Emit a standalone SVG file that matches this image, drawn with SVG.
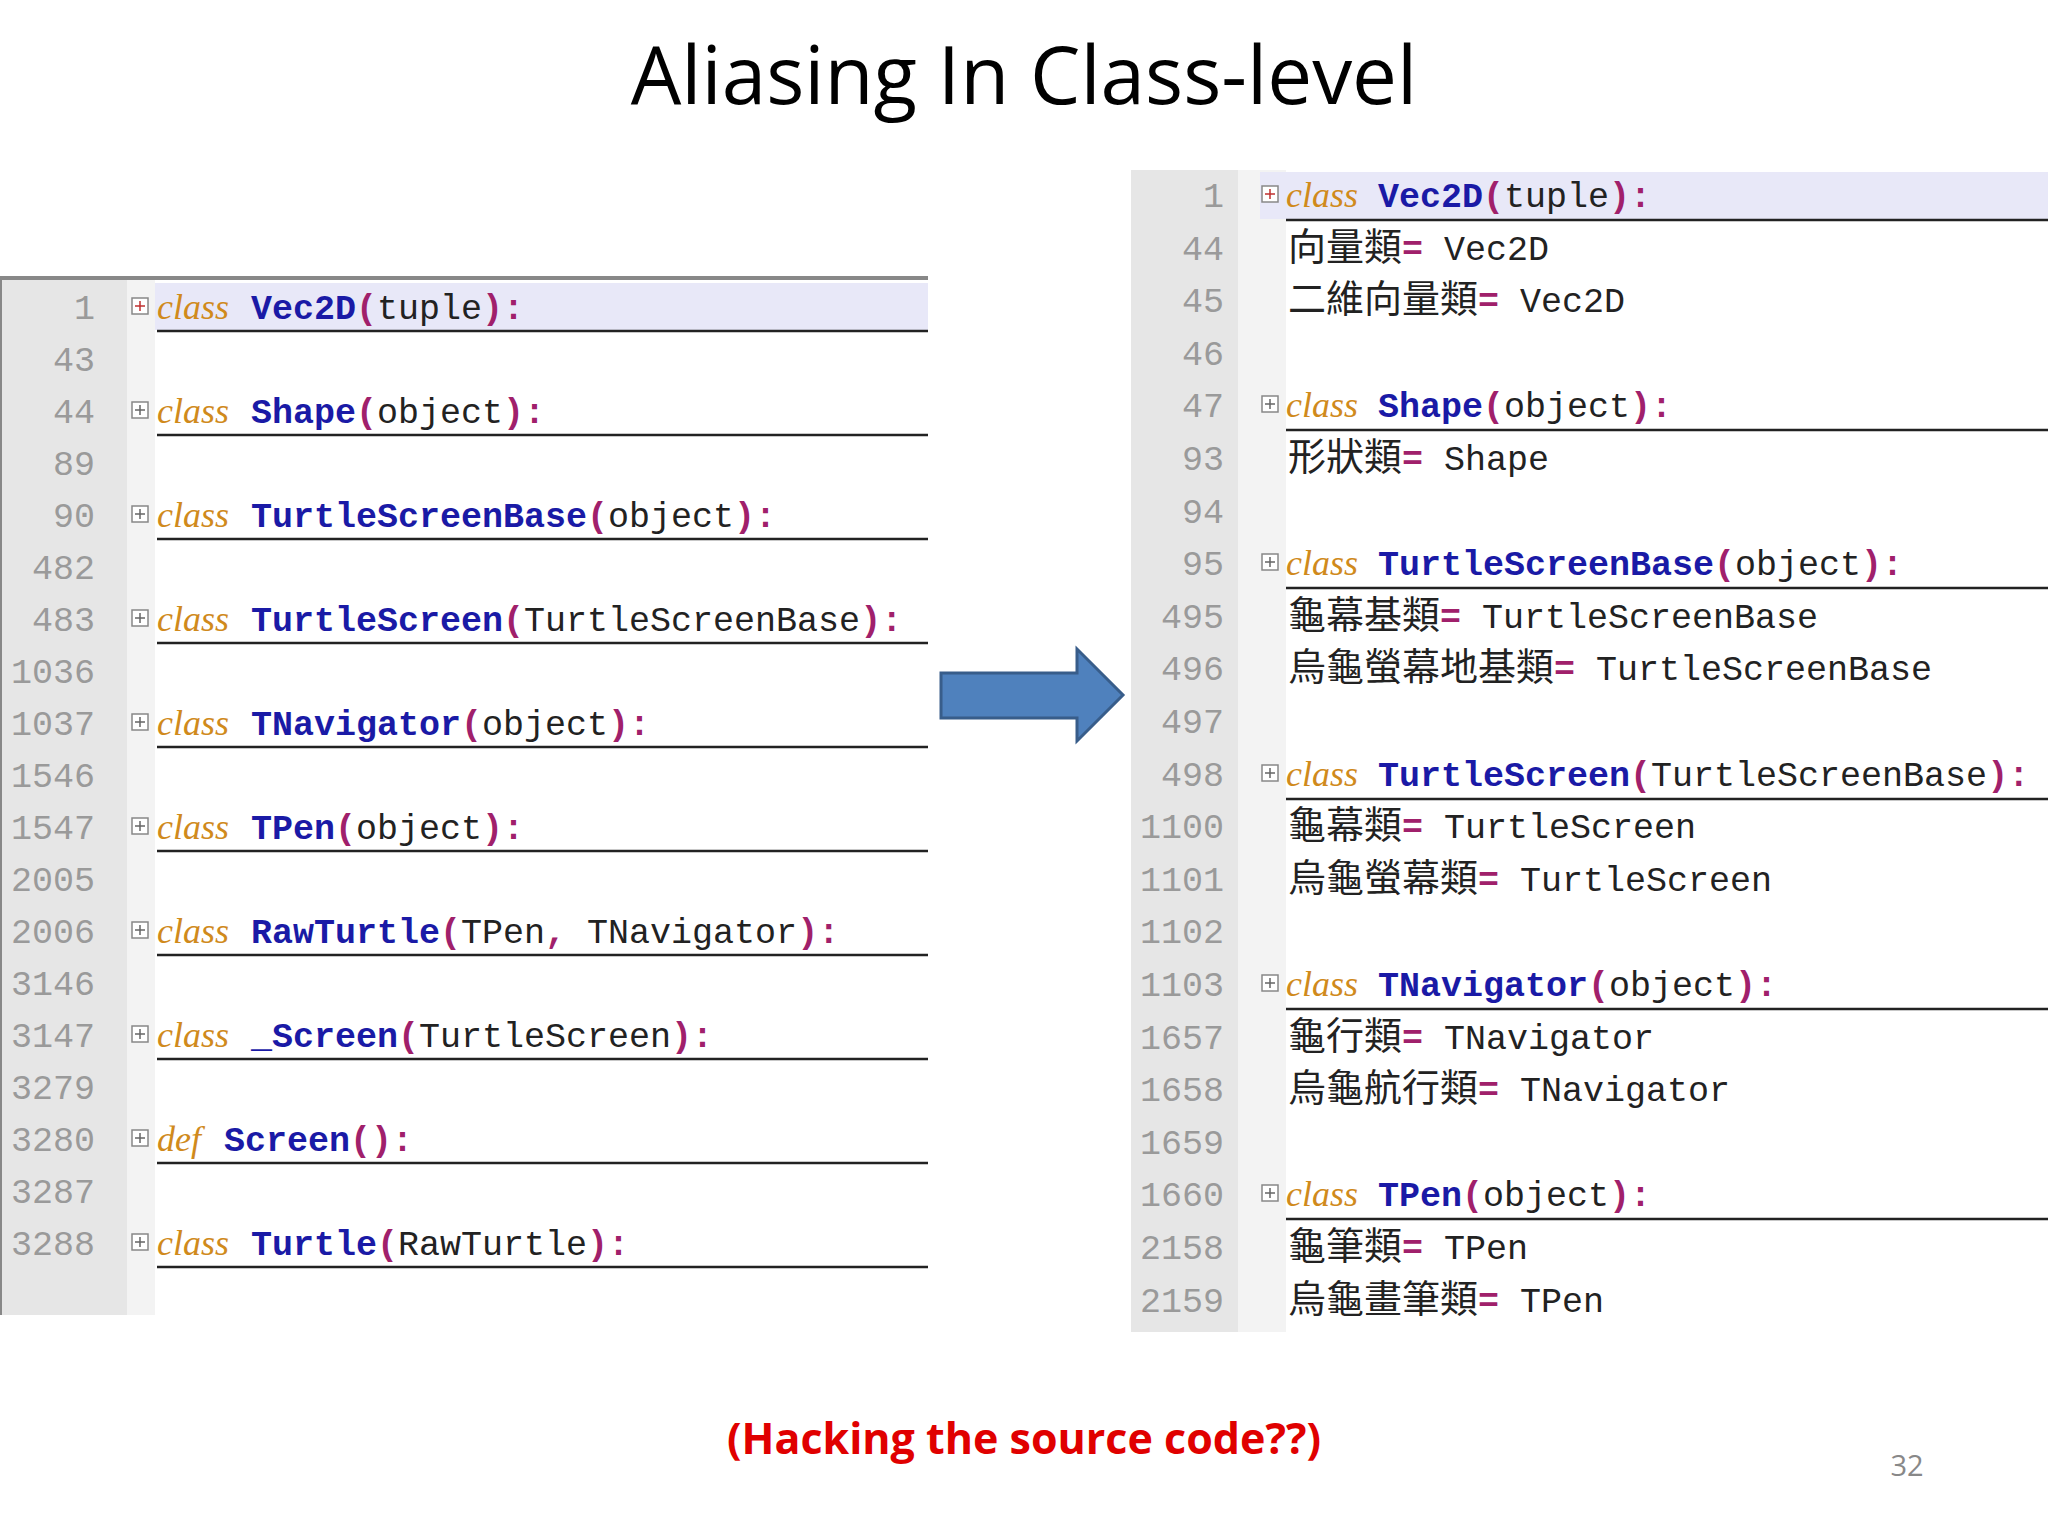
<svg xmlns="http://www.w3.org/2000/svg" width="2048" height="1536" viewBox="0 0 2048 1536">
<style>
.ln{font-family:"Liberation Mono",monospace;font-size:35px;fill:#9a9a9a;text-anchor:end}
.code{font-family:"Liberation Mono",monospace;font-size:35px;fill:#222}
.kw{font-family:"Liberation Serif",serif;font-style:italic;font-size:36px;fill:#d08a1c}
.nm{font-weight:bold;fill:#1a1aa6}
.p{fill:#a0206b;font-weight:bold}
.cjk{font-family:"Noto Sans CJK TC","Noto Sans CJK SC",sans-serif;font-size:38px;fill:#222}
.ul{stroke:#222;stroke-width:2.5}
.box{fill:#fff;stroke:#888;stroke-width:1.5}
</style>
<rect width="2048" height="1536" fill="#fff"/>
<text x="1024" y="104" font-family="Open Sans,Liberation Sans,sans-serif" font-size="80" text-anchor="middle" fill="#000">Aliasing In Class-level</text>

<g id="left-panel">
<rect x="0" y="277" width="928" height="1038" fill="#fff"/>
<rect x="0" y="277" width="127" height="1038" fill="#e6e6e6"/>
<rect x="127" y="277" width="28" height="1038" fill="#f3f3f3"/>
<rect x="155" y="283" width="773" height="47" fill="#e8e8f8"/>
<line x1="0" y1="278" x2="928" y2="278" stroke="#888" stroke-width="4"/>
<line x1="1" y1="277" x2="1" y2="1315" stroke="#888" stroke-width="2"/>
<g class="ln">
<text x="95" y="319">1</text><text x="95" y="371">43</text><text x="95" y="423">44</text><text x="95" y="475">89</text><text x="95" y="527">90</text><text x="95" y="579">482</text><text x="95" y="631">483</text><text x="95" y="683">1036</text><text x="95" y="735">1037</text><text x="95" y="787">1546</text><text x="95" y="839">1547</text><text x="95" y="891">2005</text><text x="95" y="943">2006</text><text x="95" y="995">3146</text><text x="95" y="1047">3147</text><text x="95" y="1099">3279</text><text x="95" y="1151">3280</text><text x="95" y="1203">3287</text><text x="95" y="1255">3288</text>
</g>
<g>
<rect class="box" x="132" y="298" width="16" height="16" stroke="#c03030"/>
<rect class="box" x="132" y="402" width="16" height="16"/><rect class="box" x="132" y="506" width="16" height="16"/><rect class="box" x="132" y="610" width="16" height="16"/><rect class="box" x="132" y="714" width="16" height="16"/><rect class="box" x="132" y="818" width="16" height="16"/><rect class="box" x="132" y="922" width="16" height="16"/><rect class="box" x="132" y="1026" width="16" height="16"/><rect class="box" x="132" y="1130" width="16" height="16"/><rect class="box" x="132" y="1234" width="16" height="16"/>
</g>
<g stroke="#666" stroke-width="1.5">
<path d="M135 306h10M140 301v10" stroke="#c03030"/><path d="M135 410h10M140 405v10M135 514h10M140 509v10M135 618h10M140 613v10M135 722h10M140 717v10M135 826h10M140 821v10M135 930h10M140 925v10M135 1034h10M140 1029v10M135 1138h10M140 1133v10M135 1242h10M140 1237v10"/>
</g>
<g class="ul">
<line x1="157" y1="331" x2="928" y2="331"/><line x1="157" y1="435" x2="928" y2="435"/><line x1="157" y1="539" x2="928" y2="539"/><line x1="157" y1="643" x2="928" y2="643"/><line x1="157" y1="747" x2="928" y2="747"/><line x1="157" y1="851" x2="928" y2="851"/><line x1="157" y1="955" x2="928" y2="955"/><line x1="157" y1="1059" x2="928" y2="1059"/><line x1="157" y1="1163" x2="928" y2="1163"/><line x1="157" y1="1267" x2="928" y2="1267"/>
</g>
<text x="157" y="319" class="kw">class</text><text x="251" y="319" class="code"><tspan class="nm">Vec2D</tspan><tspan class="p">(</tspan>tuple<tspan class="p">):</tspan></text>
<text x="157" y="423" class="kw">class</text><text x="251" y="423" class="code"><tspan class="nm">Shape</tspan><tspan class="p">(</tspan>object<tspan class="p">):</tspan></text>
<text x="157" y="527" class="kw">class</text><text x="251" y="527" class="code"><tspan class="nm">TurtleScreenBase</tspan><tspan class="p">(</tspan>object<tspan class="p">):</tspan></text>
<text x="157" y="631" class="kw">class</text><text x="251" y="631" class="code"><tspan class="nm">TurtleScreen</tspan><tspan class="p">(</tspan>TurtleScreenBase<tspan class="p">):</tspan></text>
<text x="157" y="735" class="kw">class</text><text x="251" y="735" class="code"><tspan class="nm">TNavigator</tspan><tspan class="p">(</tspan>object<tspan class="p">):</tspan></text>
<text x="157" y="839" class="kw">class</text><text x="251" y="839" class="code"><tspan class="nm">TPen</tspan><tspan class="p">(</tspan>object<tspan class="p">):</tspan></text>
<text x="157" y="943" class="kw">class</text><text x="251" y="943" class="code" xml:space="preserve"><tspan class="nm">RawTurtle</tspan><tspan class="p">(</tspan>TPen<tspan class="p">,</tspan> TNavigator<tspan class="p">):</tspan></text>
<text x="157" y="1047" class="kw">class</text><text x="251" y="1047" class="code"><tspan class="nm">_Screen</tspan><tspan class="p">(</tspan>TurtleScreen<tspan class="p">):</tspan></text>
<text x="157" y="1151" class="kw">def</text><text x="224" y="1151" class="code"><tspan class="nm">Screen</tspan><tspan class="p">():</tspan></text>
<text x="157" y="1255" class="kw">class</text><text x="251" y="1255" class="code"><tspan class="nm">Turtle</tspan><tspan class="p">(</tspan>RawTurtle<tspan class="p">):</tspan></text>
</g>

<g id="connectors">
<path d="M941 673H1077V649L1123 695L1077 741V718H941Z" fill="#4f81bd" stroke="#385d8a" stroke-width="3"/>
</g>

<g id="right-panel">
<rect x="1131" y="170" width="917" height="1162" fill="#fff"/>
<rect x="1131" y="170" width="107" height="1162" fill="#e6e6e6"/>
<rect x="1238" y="170" width="48" height="1162" fill="#f3f3f3"/>
<rect x="1260" y="172" width="788" height="47" fill="#e8e8f8"/>
<g class="ln">
<text x="1224" y="207">1</text><text x="1224" y="260">44</text><text x="1224" y="312">45</text><text x="1224" y="365">46</text><text x="1224" y="417">47</text><text x="1224" y="470">93</text><text x="1224" y="523">94</text><text x="1224" y="575">95</text><text x="1224" y="628">495</text><text x="1224" y="680">496</text><text x="1224" y="733">497</text><text x="1224" y="786">498</text><text x="1224" y="838">1100</text><text x="1224" y="891">1101</text><text x="1224" y="943">1102</text><text x="1224" y="996">1103</text><text x="1224" y="1049">1657</text><text x="1224" y="1101">1658</text><text x="1224" y="1154">1659</text><text x="1224" y="1206">1660</text><text x="1224" y="1259">2158</text><text x="1224" y="1312">2159</text>
</g>
<rect class="box" x="1262" y="186" width="16" height="16" stroke="#c03030"/>
<rect class="box" x="1262" y="396" width="16" height="16"/><rect class="box" x="1262" y="554" width="16" height="16"/><rect class="box" x="1262" y="765" width="16" height="16"/><rect class="box" x="1262" y="975" width="16" height="16"/><rect class="box" x="1262" y="1185" width="16" height="16"/>
<path d="M1265 194h10M1270 189v10" stroke="#c03030" stroke-width="1.5"/>
<path d="M1265 404h10M1270 399v10M1265 562h10M1270 557v10M1265 773h10M1270 768v10M1265 983h10M1270 978v10M1265 1193h10M1270 1188v10" stroke="#666" stroke-width="1.5"/>
<g class="ul">
<line x1="1286" y1="220" x2="2048" y2="220"/><line x1="1286" y1="430" x2="2048" y2="430"/><line x1="1286" y1="588" x2="2048" y2="588"/><line x1="1286" y1="799" x2="2048" y2="799"/><line x1="1286" y1="1009" x2="2048" y2="1009"/><line x1="1286" y1="1219" x2="2048" y2="1219"/>
</g>
<text x="1286" y="207" class="kw">class</text><text x="1378" y="207" class="code"><tspan class="nm">Vec2D</tspan><tspan class="p">(</tspan>tuple<tspan class="p">):</tspan></text>
<text x="1288" y="260" xml:space="preserve"><tspan class="cjk">向量類</tspan><tspan class="code p">=</tspan><tspan class="code"> Vec2D</tspan></text>
<text x="1288" y="312" xml:space="preserve"><tspan class="cjk">二維向量類</tspan><tspan class="code p">=</tspan><tspan class="code"> Vec2D</tspan></text>
<text x="1286" y="417" class="kw">class</text><text x="1378" y="417" class="code"><tspan class="nm">Shape</tspan><tspan class="p">(</tspan>object<tspan class="p">):</tspan></text>
<text x="1288" y="470" xml:space="preserve"><tspan class="cjk">形狀類</tspan><tspan class="code p">=</tspan><tspan class="code"> Shape</tspan></text>
<text x="1286" y="575" class="kw">class</text><text x="1378" y="575" class="code"><tspan class="nm">TurtleScreenBase</tspan><tspan class="p">(</tspan>object<tspan class="p">):</tspan></text>
<text x="1288" y="628" xml:space="preserve"><tspan class="cjk">龜幕基類</tspan><tspan class="code p">=</tspan><tspan class="code"> TurtleScreenBase</tspan></text>
<text x="1288" y="680" xml:space="preserve"><tspan class="cjk">烏龜螢幕地基類</tspan><tspan class="code p">=</tspan><tspan class="code"> TurtleScreenBase</tspan></text>
<text x="1286" y="786" class="kw">class</text><text x="1378" y="786" class="code"><tspan class="nm">TurtleScreen</tspan><tspan class="p">(</tspan>TurtleScreenBase<tspan class="p">):</tspan></text>
<text x="1288" y="838" xml:space="preserve"><tspan class="cjk">龜幕類</tspan><tspan class="code p">=</tspan><tspan class="code"> TurtleScreen</tspan></text>
<text x="1288" y="891" xml:space="preserve"><tspan class="cjk">烏龜螢幕類</tspan><tspan class="code p">=</tspan><tspan class="code"> TurtleScreen</tspan></text>
<text x="1286" y="996" class="kw">class</text><text x="1378" y="996" class="code"><tspan class="nm">TNavigator</tspan><tspan class="p">(</tspan>object<tspan class="p">):</tspan></text>
<text x="1288" y="1049" xml:space="preserve"><tspan class="cjk">龜行類</tspan><tspan class="code p">=</tspan><tspan class="code"> TNavigator</tspan></text>
<text x="1288" y="1101" xml:space="preserve"><tspan class="cjk">烏龜航行類</tspan><tspan class="code p">=</tspan><tspan class="code"> TNavigator</tspan></text>
<text x="1286" y="1206" class="kw">class</text><text x="1378" y="1206" class="code"><tspan class="nm">TPen</tspan><tspan class="p">(</tspan>object<tspan class="p">):</tspan></text>
<text x="1288" y="1259" xml:space="preserve"><tspan class="cjk">龜筆類</tspan><tspan class="code p">=</tspan><tspan class="code"> TPen</tspan></text>
<text x="1288" y="1312" xml:space="preserve"><tspan class="cjk">烏龜畫筆類</tspan><tspan class="code p">=</tspan><tspan class="code"> TPen</tspan></text>
</g>

<text x="1024" y="1454" font-family="Open Sans,Liberation Sans,sans-serif" font-weight="bold" font-size="43" text-anchor="middle" fill="#e00000">(Hacking the source code??)</text>
<text x="1907" y="1476" font-family="Open Sans,Liberation Sans,sans-serif" font-size="29" text-anchor="middle" fill="#888">32</text>
</svg>
